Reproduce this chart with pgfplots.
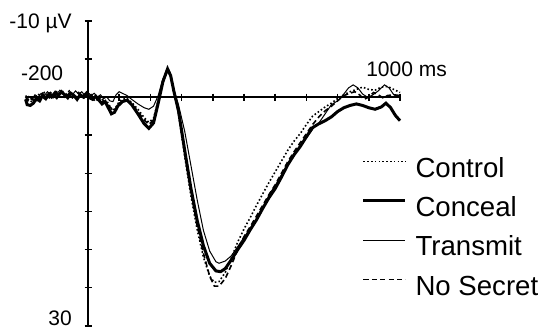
\documentclass[border=0pt]{standalone}
\usepackage{fontspec}
\setmainfont{Liberation Sans}
\usepackage{pgfplots}
\pgfplotsset{compat=1.18}
\begin{document}
\begin{tikzpicture}
\begin{axis}[
  scale only axis, width=187.2pt, height=152.5pt,
  xmin=-200, xmax=1000, ymin=-10, ymax=30,
  y dir=reverse,
  axis lines=middle,
  axis line style={-, line width=0.9pt, black},
  xtick={100,200,...,1000}, ytick={-10,-5,...,30},
  xticklabels={}, yticklabels={},
  tick align=center, major tick length=3.5pt,
  tick style={line width=0.8pt, black},
  clip=false,
  legend cell align=left,
  legend style={draw=none, fill=none, inner sep=0pt, outer sep=0pt,
    at={(axis cs:878,7.9)}, anchor=north west,
    font=\fontsize{13.8}{16}\selectfont,
    nodes={inner sep=0pt, text height=9.9pt, text depth=0pt},
    row sep=9.75pt,
    /tikz/every odd column/.append style={column sep=4.3pt}},
  legend image code/.code={\draw[#1] (0pt,0.28em) -- (21pt,0.28em);},
]
\addplot[black, line width=0.8pt, dash pattern=on 0.8pt off 1.1pt] coordinates {
(-200,-0.2)(-190,0.4)(-180,0.6)(-170,0.1)(-160,-0.4)(-150,-0.1)(-140,-0.6)(-130,-0.2)(-120,0.3)(-110,-0.2)(-100,-0.7)(-90,-0.3)(-80,0.2)(-70,-0.4)(-60,-0.8)(-50,-0.2)(-40,0.1)(-30,-0.5)(-20,-0.2)(-10,0.2)(0,-0.4)(10,0.1)(20,0.4)(30,0.0)(40,0.3)(50,0.8)(60,0.5)(70,1.2)(80,1.8)(90,1.3)(100,0.6)(110,0.3)(125,0.2)(140,0.7)(160,1.6)(180,2.7)(195,3.3)(210,2.8)(225,0.4)(240,-2.2)(255,-3.8)(265,-3.0)(275,-1.0)(290,2.2)(310,7.8)(330,13.0)(350,17.4)(370,21.0)(390,23.5)(405,24.3)(420,24.2)(440,23.0)(460,21.0)(480,19.0)(500,17.3)(520,15.8)(540,14.2)(560,12.7)(580,11.2)(600,9.8)(620,8.4)(640,7.0)(660,5.8)(680,4.8)(700,3.6)(720,2.5)(740,1.9)(760,1.3)(780,0.8)(800,0.2)(820,-0.3)(840,-0.7)(860,-1.0)(880,-1.3)(900,-1.0)(920,-0.9)(940,-1.3)(960,-1.4)(980,-1.0)(1000,-0.6)
};
\addlegendentry{Control}
\addplot[black, line width=1.5pt] coordinates {
(-200,0.3)(-195,1.0)(-185,1.1)(-175,0.8)(-165,0.2)(-155,0.5)(-145,-0.3)(-135,0.2)(-125,-0.4)(-115,-0.1)(-105,-0.6)(-95,-0.2)(-85,-0.7)(-75,-0.3)(-65,0.1)(-55,-0.5)(-45,-0.2)(-35,0.3)(-25,-0.3)(-15,0.0)(-5,-0.5)(5,0.1)(15,0.3)(25,-0.1)(35,0.4)(45,0.9)(55,0.6)(65,1.4)(75,2.2)(85,2.0)(95,1.2)(110,0.6)(125,0.4)(140,1.0)(160,2.2)(180,3.5)(195,4.1)(210,3.4)(225,0.8)(240,-2.0)(255,-3.7)(265,-2.8)(275,-0.8)(290,1.8)(310,7.0)(330,12.0)(350,16.2)(370,19.5)(390,21.8)(410,22.8)(425,22.9)(440,22.5)(460,21.3)(480,20.0)(500,18.8)(520,17.4)(540,16.1)(560,14.6)(580,13.2)(600,12.0)(620,10.5)(640,8.9)(660,7.6)(680,6.5)(700,5.2)(720,4.0)(740,3.5)(760,3.1)(780,2.6)(800,1.9)(820,1.4)(840,1.1)(860,0.9)(880,1.1)(900,1.4)(920,1.6)(940,1.3)(955,0.8)(970,1.4)(985,2.4)(1000,3.1)
};
\addlegendentry{Conceal}
\addplot[black, line width=0.5pt] coordinates {
(-200,0.4)(-190,-0.1)(-180,0.3)(-170,-0.3)(-160,0.0)(-150,-0.5)(-140,-0.2)(-130,-0.7)(-120,-0.3)(-110,0.1)(-100,-0.4)(-90,-0.9)(-80,-0.4)(-70,0.0)(-60,-0.6)(-50,-0.3)(-40,-0.8)(-30,-0.4)(-20,-0.7)(-10,-0.2)(0,-0.6)(10,-0.2)(20,-0.5)(30,0.0)(40,-0.3)(50,0.2)(60,0.0)(70,0.5)(80,0.6)(90,-0.3)(100,-0.7)(110,-0.5)(125,-0.2)(140,0.3)(160,0.9)(180,1.4)(195,1.6)(210,1.2)(225,-0.2)(240,-2.4)(255,-3.5)(265,-2.6)(275,-1.0)(290,1.0)(310,4.5)(330,9.0)(350,13.5)(370,17.5)(390,20.2)(410,21.6)(420,21.8)(440,21.5)(460,20.8)(480,19.6)(500,18.4)(520,17.2)(540,16.0)(560,14.4)(570,14.0)(580,12.8)(600,11.6)(620,10.2)(640,8.8)(660,7.4)(680,6.4)(700,5.4)(720,4.2)(740,3.4)(760,2.2)(780,1.0)(800,0.5)(820,-0.4)(835,-1.2)(850,-1.6)(865,-1.2)(880,-0.4)(895,0.0)(910,-0.2)(930,-0.8)(950,-1.6)(965,-1.2)(980,-0.3)(1000,0.0)
};
\addlegendentry{Transmit}
\addplot[black, line width=0.8pt, dash pattern=on 2.6pt off 1.6pt] coordinates {
(-200,0.0)(-190,0.6)(-180,0.2)(-170,0.7)(-160,0.3)(-150,-0.2)(-140,0.2)(-130,-0.3)(-120,-0.6)(-110,-0.2)(-100,0.2)(-90,-0.4)(-80,-0.7)(-70,-0.2)(-60,-0.4)(-50,0.1)(-40,-0.3)(-30,-0.6)(-20,-0.1)(-10,-0.4)(0,0.0)(10,-0.3)(20,0.2)(30,0.4)(40,0.0)(50,0.5)(60,0.9)(70,1.3)(80,1.7)(90,1.5)(100,0.8)(110,0.6)(125,0.5)(140,0.9)(160,1.9)(180,3.0)(195,3.6)(210,3.0)(225,0.6)(240,-2.0)(255,-3.5)(265,-2.7)(275,-0.7)(290,2.0)(310,7.3)(330,12.5)(350,16.9)(370,20.5)(390,23.5)(405,24.8)(420,24.8)(440,23.8)(460,22.0)(480,20.0)(500,18.3)(520,17.0)(540,15.6)(560,14.2)(580,12.8)(600,11.5)(620,10.0)(640,8.5)(660,7.2)(680,6.0)(700,4.8)(720,3.6)(740,2.6)(760,1.8)(780,1.2)(800,0.5)(820,-0.2)(840,-0.5)(855,-0.7)(870,-0.3)(885,0.3)(900,0.0)(915,-0.6)(930,-0.3)(945,0.1)(960,-0.2)(980,-0.3)(1000,-0.2)
};
\addlegendentry{No Secret}
\node[anchor=base east, font=\fontsize{10.5}{12}\selectfont, inner sep=0pt] at (axis cs:-51,-9.0) {-10 µV};
\node[anchor=base east, font=\fontsize{10.5}{12}\selectfont, inner sep=0pt] at (axis cs:-51,30.0) {30};
\node[anchor=base, font=\fontsize{10.5}{12}\selectfont, inner sep=0pt] at (axis cs:-147,-2.2) {-200};
\node[anchor=base, font=\fontsize{10.5}{12}\selectfont, inner sep=0pt] at (axis cs:1021,-2.66) {1000 ms};
\coordinate (bbA) at (axis cs:-282.05,30.45);
\coordinate (bbB) at (axis cs:1455.1,-12.73);
\end{axis}
\pgfresetboundingbox
\useasboundingbox (bbA) rectangle (bbB);
\end{tikzpicture}
\end{document}
